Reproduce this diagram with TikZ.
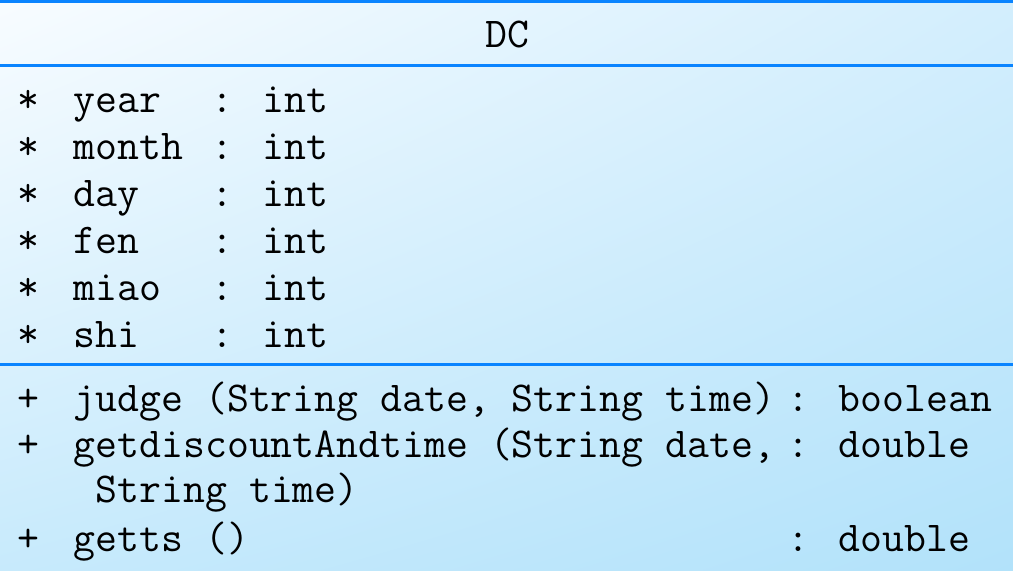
\documentclass[tikz,border=0pt]{standalone}
\usepackage{fontspec}
\usepackage{tikz}
\usetikzlibrary{calc,shadings}

\definecolor{umlline}{HTML}{0A84FF}
\definecolor{boxtl}{HTML}{F8FCFF}
\definecolor{boxtr}{HTML}{D3EEFD}
\definecolor{boxbl}{HTML}{C7EAFC}
\definecolor{boxbr}{HTML}{B2E2FA}

\newcommand{\umlfont}{\fontsize{12.1pt}{14pt}\selectfont\ttfamily}

\tikzset{
	member/.style={anchor=base west, inner sep=0pt, font=\umlfont},
	classname/.style={anchor=base, inner sep=0pt, font=\umlfont},
	sepline/.style={draw=umlline, line width=0.85pt},
}

\begin{document}
\begin{tikzpicture}[x=0.01cm, y=-0.01cm]
			\useasboundingbox (0,0) rectangle (1013,571);
			\shade[upper left=boxtl, upper right=boxtr, lower left=boxbl, lower right=boxbr] (0,0) rectangle (1013,571);

			\coordinate (topL) at (0,2);
			\coordinate (topR) at (1013,2);
			\coordinate (attrL) at (0,66);
			\coordinate (attrR) at (1013,66);
			\coordinate (opL) at (0,365);
			\coordinate (opR) at (1013,365);

			\node[classname] (dc) at (507,48) {DC};

			% attributes
			\node[member] (a1) at (17,113) {*};
			\node[member] (year) at ($(a1.base west) + (56,0)$) {year};
			\node[member] (tyear) at ($(a1.base west) + (194,0)$) {: int};
			\node[member] (a2) at ($(a1.base west) + (0,47)$) {*};
			\node[member] (month) at ($(a2.base west) + (56,0)$) {month};
			\node[member] (tmonth) at ($(a2.base west) + (194,0)$) {: int};
			\node[member] (a3) at ($(a2.base west) + (0,47)$) {*};
			\node[member] (day) at ($(a3.base west) + (56,0)$) {day};
			\node[member] (tday) at ($(a3.base west) + (194,0)$) {: int};
			\node[member] (a4) at ($(a3.base west) + (0,47)$) {*};
			\node[member] (fen) at ($(a4.base west) + (56,0)$) {fen};
			\node[member] (tfen) at ($(a4.base west) + (194,0)$) {: int};
			\node[member] (a5) at ($(a4.base west) + (0,47)$) {*};
			\node[member] (miao) at ($(a5.base west) + (56,0)$) {miao};
			\node[member] (tmiao) at ($(a5.base west) + (194,0)$) {: int};
			\node[member] (a6) at ($(a5.base west) + (0,47)$) {*};
			\node[member] (shi) at ($(a6.base west) + (56,0)$) {shi};
			\node[member] (tshi) at ($(a6.base west) + (194,0)$) {: int};

			% operations
			\node[member] (o1) at (17,412) {+};
			\node[member] (judge) at ($(o1.base west) + (56,0)$) {judge (String date, String time)};
			\node[member] (tjudge) at ($(o1.base west) + (770,0)$) {: boolean};
			\node[member] (o2) at ($(o1.base west) + (0,46)$) {+};
			\node[member] (getd) at ($(o2.base west) + (56,0)$) {getdiscountAndtime (String date,};
			\node[member] (getd2) at ($(o2.base west) + (78,45)$) {String time)};
			\node[member] (tgetd) at ($(o2.base west) + (770,0)$) {: double};
			\node[member] (o3) at ($(o2.base west) + (0,94)$) {+};
			\node[member] (getts) at ($(o3.base west) + (56,0)$) {getts ()};
			\node[member] (tgetts) at ($(o3.base west) + (770,0)$) {: double};

			\draw[sepline] (topL) -- (topR);
			\draw[sepline] (attrL) -- (attrR);
			\draw[sepline] (opL) -- (opR);

\end{tikzpicture}
\end{document}
